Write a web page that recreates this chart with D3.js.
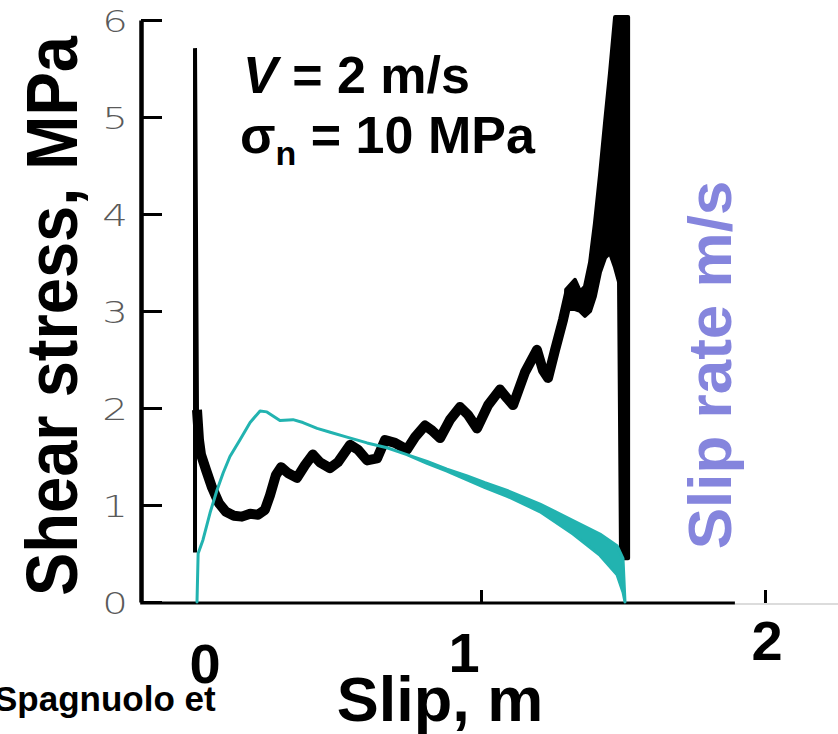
<!DOCTYPE html>
<html>
<head>
<meta charset="utf-8">
<script src="https://cdn.jsdelivr.net/npm/d3@7"></script>
<style>
  html, body { margin: 0; padding: 0; background: #fff; overflow: hidden; }
  text { font-family: "Liberation Sans", Arial, sans-serif; }
</style>
</head>
<body>
<svg id="chart" width="838" height="734"></svg>
<script>
// Loading spike at the start of the run: shear stress (MPa) vs slip (m)
const loadSlip = [-0.007, -0.007, 0.000];
const loadMPa  = [0.51, 5.71, 1.98];

// Shear stress trace during sliding
const stressSlip = [0.000, 0.007, 0.014, 0.032, 0.053, 0.077, 0.102, 0.130, 0.158, 0.187,
  0.215, 0.239, 0.257, 0.278, 0.296, 0.320, 0.352, 0.380, 0.408, 0.433,
  0.468, 0.496, 0.539, 0.567, 0.599, 0.634, 0.662, 0.697, 0.739, 0.768,
  0.803, 0.827, 0.856, 0.891, 0.926, 0.954, 0.986, 1.025, 1.067, 1.092,
  1.113, 1.155, 1.197, 1.218, 1.236, 1.261, 1.289, 1.313];
const stressMPa = [1.98, 1.67, 1.52, 1.36, 1.18, 1.02, 0.93, 0.89, 0.88, 0.91,
  0.90, 0.95, 1.10, 1.31, 1.39, 1.33, 1.28, 1.41, 1.52, 1.44,
  1.38, 1.44, 1.62, 1.57, 1.46, 1.48, 1.67, 1.64, 1.57, 1.70,
  1.82, 1.77, 1.69, 1.88, 2.01, 1.93, 1.79, 2.03, 2.19, 2.10,
  2.03, 2.37, 2.60, 2.39, 2.31, 2.60, 2.91, 3.22];

// High-frequency stress oscillation before arrest (envelope, MPa)
const burstSlip = [1.300, 1.331, 1.349, 1.366, 1.384, 1.401, 1.419, 1.437, 1.454, 1.472, 1.486, 1.493, 1.505, 1.518];
const burstLow  = [3.02, 3.02, 3.00, 2.95, 3.00, 3.15, 3.40, 3.55, 3.60, 3.45, 3.30, 0.45, 0.45, 0.45];
const burstHigh = [3.22, 3.32, 3.20, 3.25, 3.50, 3.90, 4.40, 4.95, 5.45, 6.03, 6.03, 6.03, 6.03, 6.03];

// Slip rate (m/s) vs slip (m), envelope of the trace
const rateSlip = [0.000, 0.004, 0.021, 0.046, 0.070, 0.092, 0.116, 0.151, 0.187, 0.222,
  0.246, 0.292, 0.338, 0.373, 0.423, 0.469, 0.528, 0.599, 0.669, 0.739,
  0.810, 0.880, 0.951, 1.014, 1.092, 1.208, 1.324, 1.419, 1.479, 1.500, 1.507];
const rateLow  = [0.00, 0.50, 0.64, 0.92, 1.15, 1.33, 1.50, 1.67, 1.85, 1.97,
  1.96, 1.87, 1.88, 1.85, 1.79, 1.75, 1.70, 1.64, 1.59, 1.52,
  1.43, 1.35, 1.26, 1.18, 1.09, 0.93, 0.70, 0.48, 0.28, 0.10, 0.00];
const rateHigh = [0.00, 0.50, 0.64, 0.92, 1.15, 1.33, 1.50, 1.67, 1.85, 1.97,
  1.96, 1.87, 1.88, 1.85, 1.79, 1.75, 1.70, 1.64, 1.59, 1.52,
  1.45, 1.37, 1.30, 1.23, 1.15, 1.01, 0.84, 0.70, 0.58, 0.45, 0.00];

const yTickValues = [0, 1, 2, 3, 4, 5, 6];
const xTickValues = [1, 2];
const xTickLabels = [0, 1, 2];
const xAxisExtent = [-0.2, 1.894];

const svg = d3.select("#chart");
const x = d3.scaleLinear().domain([0, 2]).range([197, 765]);
const y = d3.scaleLinear().domain([0, 6]).range([602, 20]);

// Left axis with inward ticks and thin grey numerals
const yAxis = svg.append("g")
  .attr("transform", "translate(141,0)")
  .call(d3.axisLeft(y).tickValues(yTickValues).tickFormat(d3.format("d"))
    .tickSize(-21).tickSizeOuter(0));
yAxis.select(".domain").attr("stroke", "#000").attr("stroke-width", 4.5);
yAxis.selectAll(".tick line").attr("stroke", "#000").attr("stroke-width", 3);
yAxis.selectAll(".tick text")
  .attr("x", 0)
  .attr("dy", "0.36em")
  .attr("transform", "translate(-13,0) scale(1.3,1)")
  .attr("fill", "#5a5a5a")
  .style("font-family", "'DejaVu Sans', sans-serif")
  .style("font-weight", 200)
  .style("font-size", "31px");

// Bottom axis: baseline line plus inward ticks
svg.append("line")
  .attr("x1", x(xAxisExtent[1])).attr("x2", 838)
  .attr("y1", 604).attr("y2", 604)
  .attr("stroke", "#dcdcdc").attr("stroke-width", 2);
svg.append("line")
  .attr("x1", x(xAxisExtent[0])).attr("x2", x(xAxisExtent[1]))
  .attr("y1", 603).attr("y2", 603)
  .attr("stroke", "#000").attr("stroke-width", 3);
const xAxis = svg.append("g")
  .attr("transform", "translate(0,603)")
  .call(d3.axisBottom(x).tickValues(xTickValues).tickSize(-13).tickSizeOuter(0).tickFormat(""));
xAxis.select(".domain").remove();
xAxis.selectAll(".tick line").attr("stroke", "#000").attr("stroke-width", 3);

// Large bold slip labels
const xLabelPos = [[8, 683], [-17, 672], [2, 660]];
svg.selectAll(".xlab").data(xTickLabels).join("text")
  .attr("class", "xlab")
  .attr("x", (d, i) => x(d) + xLabelPos[i][0])
  .attr("y", (d, i) => xLabelPos[i][1])
  .attr("text-anchor", "middle")
  .style("font-size", "56px").style("font-weight", "bold")
  .text(d => d);

// Shear stress: loading spike, sliding trace, oscillating burst
const stressLine = d3.line().x(d => x(d[0])).y(d => y(d[1]));
svg.append("path")
  .attr("d", stressLine(d3.zip(loadSlip, loadMPa)))
  .attr("fill", "none").attr("stroke", "#000").attr("stroke-width", 4)
  .attr("stroke-linejoin", "miter");
svg.append("path")
  .attr("d", stressLine(d3.zip(stressSlip, stressMPa)))
  .attr("fill", "none").attr("stroke", "#000").attr("stroke-width", 10)
  .attr("stroke-linejoin", "round");
const burstArea = d3.area().x(d => x(d[0])).y0(d => y(d[1])).y1(d => y(d[2]));
svg.append("path")
  .attr("d", burstArea(d3.zip(burstSlip, burstLow, burstHigh)))
  .attr("fill", "#000").attr("stroke", "#000").attr("stroke-width", 4)
  .attr("stroke-linejoin", "round");

// Slip rate band
const rateArea = d3.area().x(d => x(d[0])).y0(d => y(d[1])).y1(d => y(d[2]));
svg.append("path")
  .attr("d", rateArea(d3.zip(rateSlip, rateLow, rateHigh)))
  .attr("fill", "#22b3b0").attr("stroke", "#22b3b0").attr("stroke-width", 3)
  .attr("stroke-linejoin", "round");

// Axis titles
svg.append("text")
  .attr("transform", "translate(77,316) rotate(-90)")
  .attr("text-anchor", "middle")
  .attr("textLength", 560).attr("lengthAdjust", "spacingAndGlyphs")
  .style("font-size", "73px").style("font-weight", "bold")
  .text("Shear stress, MPa");
svg.append("text")
  .attr("transform", "translate(731,365) rotate(-90)")
  .attr("text-anchor", "middle")
  .attr("fill", "#8585dd")
  .style("font-size", "62px").style("font-weight", "bold")
  .text("Slip rate m/s");
svg.append("text")
  .attr("x", 440).attr("y", 721)
  .attr("text-anchor", "middle")
  .style("font-size", "63px").style("font-weight", "bold")
  .text("Slip, m");
svg.append("text")
  .attr("x", -6).attr("y", 711)
  .style("font-size", "35px").style("font-weight", "bold")
  .text("Spagnuolo et");

// Experimental conditions
const cond1 = svg.append("text")
  .attr("x", 243).attr("y", 93)
  .style("font-size", "52px").style("font-weight", "bold");
cond1.append("tspan").style("font-style", "italic").text("V");
cond1.append("tspan").text(" = 2 m/s");

const cond2 = svg.append("text")
  .attr("x", 240).attr("y", 153)
  .style("font-size", "52px").style("font-weight", "bold");
cond2.append("tspan").text("σ");
cond2.append("tspan").attr("dy", 12).style("font-size", "34px").text("n");
cond2.append("tspan").attr("dy", -12).text(" = 10 MPa");
</script>
</body>
</html>
